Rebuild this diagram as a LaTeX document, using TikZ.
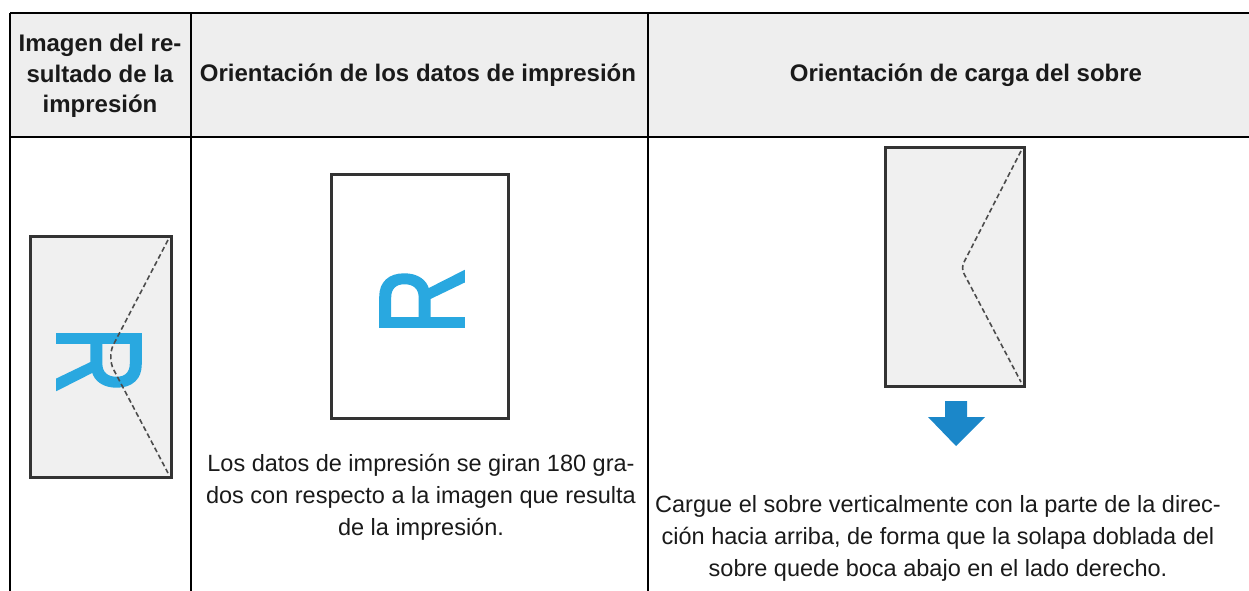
\documentclass[tikz,border=0pt]{standalone}
\usepackage{fontspec}
\setmainfont{Liberation Sans}
\newfontfamily\rfont[FakeBold=2.5]{Liberation Sans}
\usepackage{tikz}

\definecolor{rblue}{HTML}{29A8E0}
\definecolor{arrowblue}{HTML}{1B87C9}
\definecolor{headgray}{HTML}{EEEEEE}
\definecolor{envgray}{HTML}{F0F0F0}
\definecolor{inkgray}{HTML}{1A1A1A}

\tikzset{
  rule/.style={line width=2pt, black},
  headtext/.style={align=center, text=inkgray, inner sep=0pt,
    font=\fontsize{24}{30.5}\selectfont\bfseries},
  bodytext/.style={align=center, text=inkgray, inner sep=0pt,
    font=\fontsize{23.5}{32}\selectfont},
  sheet/.style={line width=3pt, draw=black!80},
  flap/.style={line width=1.6pt, black!70, dash pattern=on 5pt off 3pt},
  bigR/.style={text=rblue, inner sep=0pt,
    font=\rfont\fontsize{120}{120}\selectfont}
}

\begin{document}
\begin{tikzpicture}[x=1pt, y=-1pt]
        \useasboundingbox (0,0) rectangle (1249,591);

        % Header band
        \fill[headgray] (10,13) rectangle (1249,137);
        \draw[rule] (10,13) -- (1249,13);
        \draw[rule] (10,137) -- (1249,137);
        \foreach \x in {10,191,648} {
            \draw[rule] (\x,13) -- (\x,591);
        }

        % Header texts
        \node[headtext] (hdimg) at (100,76) {Imagen del re-\\sultado de la\\impresión};
        \node[headtext] (hddata) at (418,75) {Orientación de los datos de impresión};
        \node[headtext] (hdload) at (966,75) {Orientación de carga del sobre};

        % Printed result (left column)
        \filldraw[sheet, fill=envgray] (30,236) rectangle (171,477);
        \node[bigR, rotate=-90] (Rres) at (99,360) {\scalebox{0.77}[1]{R}};
        \draw[flap, rounded corners=14pt] (168,240) -- (107,357) -- (168,473);

        % Print data (middle column)
        \filldraw[sheet, fill=white] (331,174) rectangle (508,418);
        \node[bigR, rotate=90] (Rdata) at (422,301) {\scalebox{0.77}[1]{R}};
        \node[bodytext] (txtdata) at (421,497) {Los datos de impresión se giran 180 gra-\\dos con respecto a la imagen que resulta\\de la impresión.};

        % Envelope loading (right column)
        \filldraw[sheet, fill=envgray] (885,147) rectangle (1024,386);
        \draw[flap, rounded corners=6pt] (1021,151) -- (961,268) -- (1021,382);
        \fill[arrowblue] (945,401) -- (967,401) -- (967,417) -- (985,417)
            -- (956,446) -- (928,417) -- (945,417) -- cycle;
        \node[bodytext] (txtload) at (938,538) {Cargue el sobre verticalmente con la parte de la direc-\\ción hacia arriba, de forma que la solapa doblada del\\sobre quede boca abajo en el lado derecho.};
\end{tikzpicture}
\end{document}
